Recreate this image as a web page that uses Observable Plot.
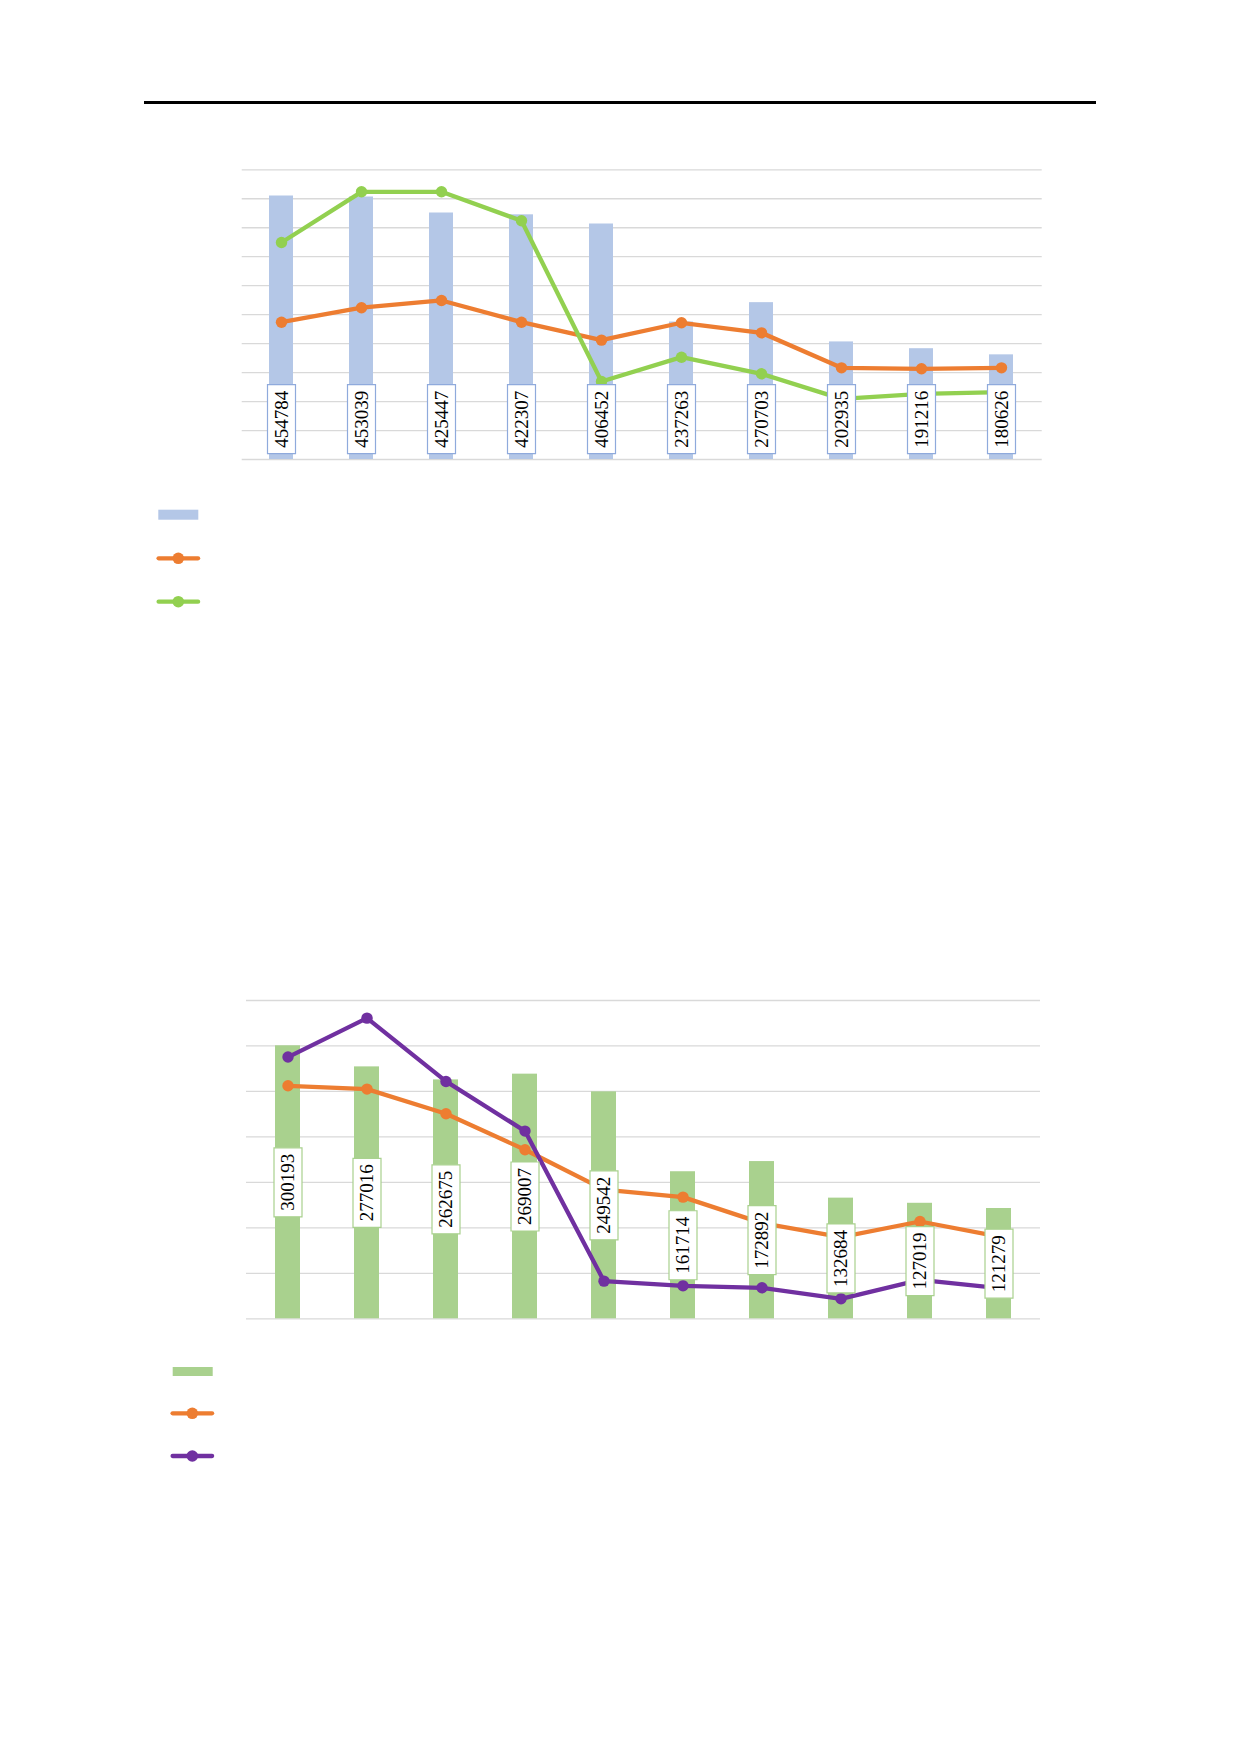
<!DOCTYPE html>
<html>
<head>
<meta charset="utf-8">
<script src="https://cdn.jsdelivr.net/npm/d3@7"></script>
<script src="https://cdn.jsdelivr.net/npm/@observablehq/plot@0.6"></script>
<style>
html, body { margin: 0; padding: 0; background: #fff; }
#page { position: relative; width: 1240px; height: 1754px; overflow: hidden; background: #fff; }
#rule { position: absolute; left: 144px; top: 100.5px; width: 952px; height: 3px; background: #000; }
.chart { position: absolute; left: 0; }
.chart text { font-family: "Liberation Serif", serif; }
.legend { position: absolute; left: 0; overflow: visible; }
</style>
</head>
<body>
<div id="page"><div id="rule"></div></div>
<script>
// ---- data ----
const categories = ["1", "2", "3", "4", "5", "6", "7", "8", "9", "10"];

// chart 1
const bars1 = [454784, 453039, 425447, 422307, 406452, 237263, 270703, 202935, 191216, 180626];
const orange1 = [237000, 262000, 274500, 237000, 206000, 236000, 218600, 158200, 156500, 158200];
const green1 = [374600, 462000, 462000, 412000, 134600, 176600, 147900, 104700, 113300, 116200];
const gridTicks1 = [0, 50000, 100000, 150000, 200000, 250000, 300000, 350000, 400000, 450000, 500000];

// chart 2
const bars2 = [300193, 277016, 262675, 269007, 249542, 161714, 172892, 132684, 127019, 121279];
const orange2 = [256200, 252600, 225400, 185900, 142000, 133800, 105200, 89800, 107000, 90400];
const purple2 = [287800, 330600, 261000, 206400, 41400, 36300, 34100, 22000, 42900, 33700];
const gridTicks2 = [0, 50000, 100000, 150000, 200000, 250000, 300000, 350000];

// ---- colours ----
const C = {
  blueBar: "#b4c7e7",
  blueBox: "#8faadc",
  greenBar: "#a9d18e",
  greenBox: "#a9d18e",
  orange: "#ed7d31",
  green: "#92d050",
  purple: "#7030a0",
  grid: "#d9d9d9"
};

// rectangular label-box symbol (drawn by Plot.dot)
const boxSymbol = {
  draw(ctx) { ctx.rect(-14, -34.5, 28, 69); }
};

const page = document.getElementById("page");

function table(values) {
  return categories.map((c, i) => ({cat: c, value: values[i]}));
}

function chart({bars, series, ticks, yMax, barColor, boxStroke, top, height, mTop, mBottom, mLeft, mRight, pad, labelY, labelDy}) {
  const barData = table(bars);
  const marks = [
    Plot.ruleY(ticks, {stroke: C.grid, strokeWidth: 1.3}),
    Plot.barY(barData, {x: "cat", y: "value", fill: barColor})
  ];
  for (const s of series) {
    const d = table(s.values);
    marks.push(Plot.line(d, {x: "cat", y: "value", stroke: s.color, strokeWidth: 4.3, strokeLinecap: "round", strokeLinejoin: "round"}));
    marks.push(Plot.dot(d, {x: "cat", y: "value", r: 5.7, fill: s.color, stroke: "none"}));
  }
  marks.push(Plot.dot(barData, {x: "cat", y: labelY, dy: labelDy, symbol: boxSymbol, r: 10, fill: "white", stroke: boxStroke, strokeWidth: 1.2}));
  marks.push(Plot.text(barData, {x: "cat", y: labelY, dy: labelDy, text: d => String(d.value), rotate: -90,
    fontSize: 19, fontFamily: "'Liberation Serif', serif", fill: "#000"}));
  const svg = Plot.plot({
    width: 1240,
    height,
    marginTop: mTop,
    marginBottom: mBottom,
    marginLeft: mLeft,
    marginRight: mRight,
    style: {background: "transparent", overflow: "visible", fontFamily: "'Liberation Serif', serif"},
    x: {domain: categories, paddingInner: pad, paddingOuter: pad / 2, axis: null},
    y: {domain: [0, yMax], axis: null},
    marks
  });
  svg.classList.add("chart");
  svg.style.top = top + "px";
  page.appendChild(svg);
}

chart({
  bars: bars1,
  series: [{values: orange1, color: C.orange}, {values: green1, color: C.green}],
  ticks: gridTicks1, yMax: 500000,
  barColor: C.blueBar, boxStroke: C.blueBox,
  top: 130, height: 360, mTop: 39.3, mBottom: 31, mLeft: 241.7, mRight: 198.3,
  pad: 0.694,
  labelY: () => 0, labelDy: -40.3
});

chart({
  bars: bars2,
  series: [{values: orange2, color: C.orange}, {values: purple2, color: C.purple}],
  ticks: gridTicks2, yMax: 350000,
  barColor: C.greenBar, boxStroke: C.greenBox,
  top: 960, height: 400, mTop: 40, mBottom: 41.7, mLeft: 246, mRight: 200,
  pad: 0.685,
  labelY: d => d.value / 2, labelDy: 0
});

// ---- legends (swatches only, no text in the reference) ----
function legend(top, items) {
  const svg = d3.create("svg").attr("class", "legend").attr("width", 300).attr("height", 120)
    .style("top", top + "px");
  for (const it of items) {
    if (it.type === "bar") {
      svg.append("rect").attr("x", it.x).attr("y", it.y).attr("width", 40).attr("height", it.h).attr("fill", it.color);
    } else {
      svg.append("line").attr("x1", it.x + 2).attr("x2", it.x + 41.5).attr("y1", it.y).attr("y2", it.y)
        .attr("stroke", it.color).attr("stroke-width", 4.3).attr("stroke-linecap", "round");
      svg.append("circle").attr("cx", it.x + 21.7).attr("cy", it.y).attr("r", 5.8).attr("fill", it.color);
    }
  }
  page.appendChild(svg.node());
}

legend(500, [
  {type: "bar", x: 158.3, y: 9.7, h: 10, color: C.blueBar},
  {type: "line", x: 156.6, y: 58.3, color: C.orange},
  {type: "line", x: 156.6, y: 101.7, color: C.green}
]);
legend(1357, [
  {type: "bar", x: 172.7, y: 10, h: 9, color: C.greenBar},
  {type: "line", x: 170.6, y: 56.3, color: C.orange},
  {type: "line", x: 170.6, y: 99, color: C.purple}
]);
</script>
</body>
</html>
